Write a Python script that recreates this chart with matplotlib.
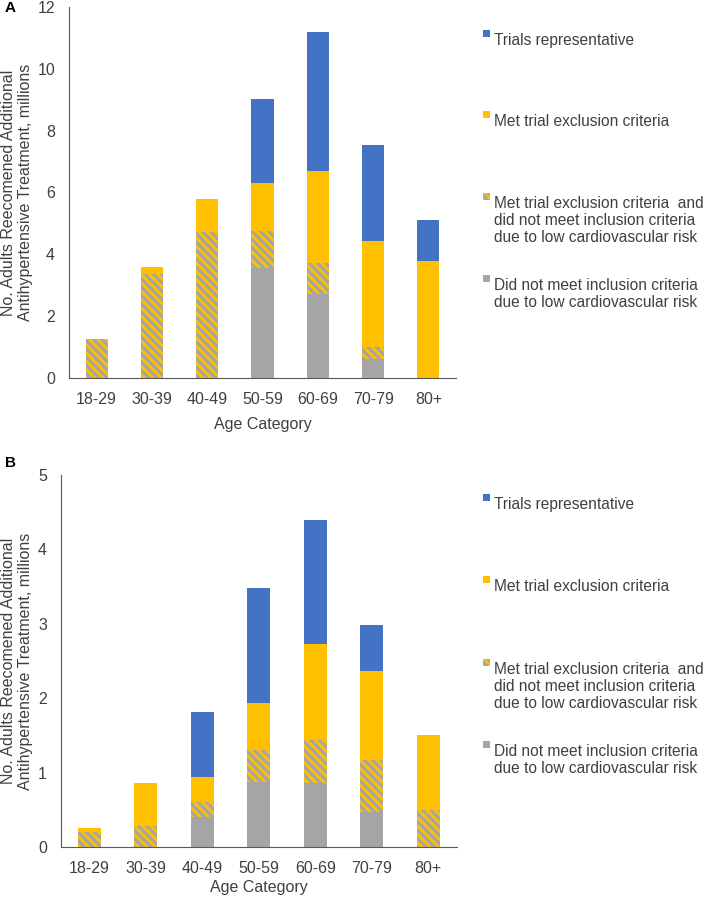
import matplotlib
matplotlib.use("Agg")
import matplotlib.pyplot as plt
from matplotlib.patches import Rectangle
import numpy as np

plt.rcParams['font.family'] = ['Liberation Sans', 'DejaVu Sans']
plt.rcParams['hatch.linewidth'] = 2.0

# data (millions)
ages = ['18-29', '30-39', '40-49', '50-59', '60-69', '70-79', '80+']

# panel A
a_gray = [0.0, 0.0, 0.0, 3.57, 2.72, 0.62, 0.0]
a_hatch = [1.27, 3.38, 4.71, 1.18, 1.01, 0.38, 0.0]
a_yellow = [0.0, 0.22, 1.07, 1.56, 2.96, 3.42, 3.77]
a_blue = [0.0, 0.0, 0.0, 2.73, 4.51, 3.13, 1.33]

# panel B
b_gray = [0.0, 0.0, 0.40, 0.88, 0.86, 0.47, 0.0]
b_hatch = [0.20, 0.28, 0.21, 0.42, 0.58, 0.70, 0.50]
b_yellow = [0.06, 0.58, 0.33, 0.63, 1.29, 1.19, 1.00]
b_blue = [0.0, 0.0, 0.87, 1.55, 1.66, 0.62, 0.0]

legend_labels = ['Trials representative',
                 'Met trial exclusion criteria',
                 'Met trial exclusion criteria  and\ndid not meet inclusion criteria\ndue to low cardiovascular risk',
                 'Did not meet inclusion criteria\ndue to low cardiovascular risk']

BLUE = '#4472C4'
YELLOW = '#FFC000'
GRAY = '#A5A5A5'
TXT = '#404040'

W, H = 709, 898
fig = plt.figure(figsize=(W / 100, H / 100), dpi=100)


def fx(px):
    return px / W


def fy(py):
    return 1 - py / H


def panel(rect, gray, hatch, yellow, blue, ymax, step, letter, letter_y, leg_y, xpad):
    l, r, t, b = rect
    ax = fig.add_axes([fx(l), fy(b), fx(r) - fx(l), fy(t) - fy(b)])
    x = np.arange(len(ages))
    gray = np.array(gray)
    hatch = np.array(hatch)
    yellow = np.array(yellow)
    blue = np.array(blue)
    w = 0.4
    ax.bar(x, gray, w, color=GRAY, linewidth=0)
    ax.bar(x, hatch, w, bottom=gray, color=GRAY, edgecolor=YELLOW,
           hatch='\\\\\\\\', linewidth=0)
    ax.bar(x, yellow, w, bottom=gray + hatch, color=YELLOW, linewidth=0)
    ax.bar(x, blue, w, bottom=gray + hatch + yellow, color=BLUE, linewidth=0)

    ax.set_xlim(-0.5, len(ages) - 0.5)
    ax.set_ylim(0, ymax)
    ax.set_yticks(np.arange(0, ymax + 0.01, step))
    ax.set_xticks(x)
    ax.set_xticklabels(ages)
    ax.tick_params(length=0, labelsize=11.5, colors=TXT, pad=10)
    for s in ['top', 'right']:
        ax.spines[s].set_visible(False)
    ax.spines['left'].set_color('#595959')
    ax.spines['bottom'].set_color('#595959')
    ax.set_xlabel('Age Category', fontsize=11.5, color=TXT, labelpad=xpad)

    yc = (t + b) / 2
    fig.text(fx(17), fy(yc), 'No. Adults Reecomened Additional\nAntihypertensive Treatment, millions',
             rotation=90, ha='center', va='center', fontsize=11.5, color=TXT,
             linespacing=1.15)
    fig.text(fx(10), fy(letter_y), letter, fontweight='bold', fontsize=11,
             ha='center', va='center', color='black')

    # legend
    styles = [dict(color=BLUE), dict(color=YELLOW),
              dict(facecolor=GRAY, edgecolor=YELLOW, hatch='\\\\\\\\', linewidth=0),
              dict(color=GRAY)]
    for ly, lab, st in zip(leg_y, legend_labels, styles):
        st = dict(st)
        st.setdefault('linewidth', 0)
        fig.add_artist(Rectangle((fx(483), fy(ly + 3.5)), fx(7), 7 / H,
                                 transform=fig.transFigure, **st))
        fig.text(fx(494), fy(ly), lab, ha='left', va='top', fontsize=11.2,
                 color=TXT, linespacing=1.17)
    return ax


panel((69, 456, 7, 378), a_gray, a_hatch, a_yellow, a_blue, 12, 2, 'A', 8,
      [33, 114, 196, 278], 7)
panel((61, 456.5, 475, 847), b_gray, b_hatch, b_yellow, b_blue, 5, 1, 'B', 463,
      [497, 579, 662, 744], 3)

fig.savefig('out.png', dpi=100)
